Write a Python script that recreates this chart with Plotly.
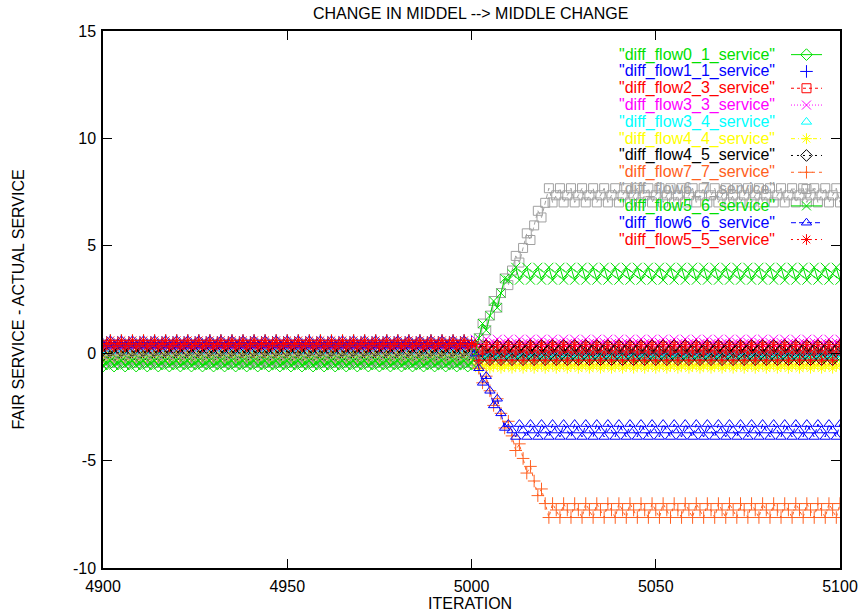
import plotly.graph_objects as go

# ---------------- data ----------------
ITERATIONS = list(range(4900, 5101))

SERIES_NAMES = [
    '"diff_flow0_1_service"', '"diff_flow1_1_service"', '"diff_flow2_3_service"',
    '"diff_flow3_3_service"', '"diff_flow3_4_service"', '"diff_flow4_4_service"',
    '"diff_flow4_5_service"', '"diff_flow7_7_service"', '"diff_flow6_7_service"',
    '"diff_flow5_6_service"', '"diff_flow6_6_service"', '"diff_flow5_5_service"',
]

flow0_1 = [
    -0.6, -0.5, -0.45, -0.6, -0.5, -0.45, -0.6, -0.5, -0.45, -0.6, -0.5, -0.45, -0.6, -0.5, -0.45, -0.6, -0.5, -0.45,
    -0.6, -0.5, -0.45, -0.6, -0.5, -0.45, -0.6, -0.5, -0.45, -0.6, -0.5, -0.45, -0.6, -0.5, -0.45, -0.6, -0.5, -0.45,
    -0.6, -0.5, -0.45, -0.6, -0.5, -0.45, -0.6, -0.5, -0.45, -0.6, -0.5, -0.45, -0.6, -0.5, -0.45, -0.6, -0.5, -0.45,
    -0.6, -0.5, -0.45, -0.6, -0.5, -0.45, -0.6, -0.5, -0.45, -0.6, -0.5, -0.45, -0.6, -0.5, -0.45, -0.6, -0.5, -0.45,
    -0.6, -0.5, -0.45, -0.6, -0.5, -0.45, -0.6, -0.5, -0.45, -0.6, -0.5, -0.45, -0.6, -0.5, -0.45, -0.6, -0.5, -0.45,
    -0.6, -0.5, -0.45, -0.6, -0.5, -0.45, -0.6, -0.5, -0.45,
    -0.6, -0.5,
    -0.1, -0.2, -0.15, -0.1, -0.2, -0.15, -0.1, -0.2, -0.15, -0.1, -0.2, -0.15, -0.1, -0.2, -0.15, -0.1, -0.2, -0.15,
    -0.1, -0.2, -0.15, -0.1, -0.2, -0.15, -0.1, -0.2, -0.15, -0.1, -0.2, -0.15, -0.1, -0.2, -0.15, -0.1, -0.2, -0.15,
    -0.1, -0.2, -0.15, -0.1, -0.2, -0.15, -0.1, -0.2, -0.15, -0.1, -0.2, -0.15, -0.1, -0.2, -0.15, -0.1, -0.2, -0.15,
    -0.1, -0.2, -0.15, -0.1, -0.2, -0.15, -0.1, -0.2, -0.15, -0.1, -0.2, -0.15, -0.1, -0.2, -0.15, -0.1, -0.2, -0.15,
    -0.1, -0.2, -0.15, -0.1, -0.2, -0.15, -0.1, -0.2, -0.15, -0.1, -0.2, -0.15, -0.1, -0.2, -0.15, -0.1, -0.2, -0.15,
    -0.1, -0.2, -0.15, -0.1, -0.2, -0.15, -0.1, -0.2, -0.15,
    -0.1,
]

flow1_1 = [
    0.4, 0.5, 0.6, 0.4, 0.5, 0.6, 0.4, 0.5, 0.6, 0.4, 0.5, 0.6, 0.4, 0.5, 0.6, 0.4, 0.5, 0.6,
    0.4, 0.5, 0.6, 0.4, 0.5, 0.6, 0.4, 0.5, 0.6, 0.4, 0.5, 0.6, 0.4, 0.5, 0.6, 0.4, 0.5, 0.6,
    0.4, 0.5, 0.6, 0.4, 0.5, 0.6, 0.4, 0.5, 0.6, 0.4, 0.5, 0.6, 0.4, 0.5, 0.6, 0.4, 0.5, 0.6,
    0.4, 0.5, 0.6, 0.4, 0.5, 0.6, 0.4, 0.5, 0.6, 0.4, 0.5, 0.6, 0.4, 0.5, 0.6, 0.4, 0.5, 0.6,
    0.4, 0.5, 0.6, 0.4, 0.5, 0.6, 0.4, 0.5, 0.6, 0.4, 0.5, 0.6, 0.4, 0.5, 0.6, 0.4, 0.5, 0.6,
    0.4, 0.5, 0.6, 0.4, 0.5, 0.6, 0.4, 0.5, 0.6,
    0.4, 0.5,
    0.1, -0.05, 0.0, 0.1, -0.05, 0.0, 0.1, -0.05, 0.0, 0.1, -0.05, 0.0, 0.1, -0.05, 0.0, 0.1, -0.05, 0.0,
    0.1, -0.05, 0.0, 0.1, -0.05, 0.0, 0.1, -0.05, 0.0, 0.1, -0.05, 0.0, 0.1, -0.05, 0.0, 0.1, -0.05, 0.0,
    0.1, -0.05, 0.0, 0.1, -0.05, 0.0, 0.1, -0.05, 0.0, 0.1, -0.05, 0.0, 0.1, -0.05, 0.0, 0.1, -0.05, 0.0,
    0.1, -0.05, 0.0, 0.1, -0.05, 0.0, 0.1, -0.05, 0.0, 0.1, -0.05, 0.0, 0.1, -0.05, 0.0, 0.1, -0.05, 0.0,
    0.1, -0.05, 0.0, 0.1, -0.05, 0.0, 0.1, -0.05, 0.0, 0.1, -0.05, 0.0, 0.1, -0.05, 0.0, 0.1, -0.05, 0.0,
    0.1, -0.05, 0.0, 0.1, -0.05, 0.0, 0.1, -0.05, 0.0,
    0.1,
]

flow2_3 = [
    0.1, 0.2, 0.3, 0.1, 0.2, 0.3, 0.1, 0.2, 0.3, 0.1, 0.2, 0.3, 0.1, 0.2, 0.3, 0.1, 0.2, 0.3,
    0.1, 0.2, 0.3, 0.1, 0.2, 0.3, 0.1, 0.2, 0.3, 0.1, 0.2, 0.3, 0.1, 0.2, 0.3, 0.1, 0.2, 0.3,
    0.1, 0.2, 0.3, 0.1, 0.2, 0.3, 0.1, 0.2, 0.3, 0.1, 0.2, 0.3, 0.1, 0.2, 0.3, 0.1, 0.2, 0.3,
    0.1, 0.2, 0.3, 0.1, 0.2, 0.3, 0.1, 0.2, 0.3, 0.1, 0.2, 0.3, 0.1, 0.2, 0.3, 0.1, 0.2, 0.3,
    0.1, 0.2, 0.3, 0.1, 0.2, 0.3, 0.1, 0.2, 0.3, 0.1, 0.2, 0.3, 0.1, 0.2, 0.3, 0.1, 0.2, 0.3,
    0.1, 0.2, 0.3, 0.1, 0.2, 0.3, 0.1, 0.2, 0.3,
    0.1, 0.2,
    0.3, -0.1, 0.1, 0.3, -0.1, 0.1, 0.3, -0.1, 0.1, 0.3, -0.1, 0.1, 0.3, -0.1, 0.1, 0.3, -0.1, 0.1,
    0.3, -0.1, 0.1, 0.3, -0.1, 0.1, 0.3, -0.1, 0.1, 0.3, -0.1, 0.1, 0.3, -0.1, 0.1, 0.3, -0.1, 0.1,
    0.3, -0.1, 0.1, 0.3, -0.1, 0.1, 0.3, -0.1, 0.1, 0.3, -0.1, 0.1, 0.3, -0.1, 0.1, 0.3, -0.1, 0.1,
    0.3, -0.1, 0.1, 0.3, -0.1, 0.1, 0.3, -0.1, 0.1, 0.3, -0.1, 0.1, 0.3, -0.1, 0.1, 0.3, -0.1, 0.1,
    0.3, -0.1, 0.1, 0.3, -0.1, 0.1, 0.3, -0.1, 0.1, 0.3, -0.1, 0.1, 0.3, -0.1, 0.1, 0.3, -0.1, 0.1,
    0.3, -0.1, 0.1, 0.3, -0.1, 0.1, 0.3, -0.1, 0.1,
    0.3,
]

flow3_3 = [
    0.0, 0.1, 0.2, 0.0, 0.1, 0.2, 0.0, 0.1, 0.2, 0.0, 0.1, 0.2, 0.0, 0.1, 0.2, 0.0, 0.1, 0.2,
    0.0, 0.1, 0.2, 0.0, 0.1, 0.2, 0.0, 0.1, 0.2, 0.0, 0.1, 0.2, 0.0, 0.1, 0.2, 0.0, 0.1, 0.2,
    0.0, 0.1, 0.2, 0.0, 0.1, 0.2, 0.0, 0.1, 0.2, 0.0, 0.1, 0.2, 0.0, 0.1, 0.2, 0.0, 0.1, 0.2,
    0.0, 0.1, 0.2, 0.0, 0.1, 0.2, 0.0, 0.1, 0.2, 0.0, 0.1, 0.2, 0.0, 0.1, 0.2, 0.0, 0.1, 0.2,
    0.0, 0.1, 0.2, 0.0, 0.1, 0.2, 0.0, 0.1, 0.2, 0.0, 0.1, 0.2, 0.0, 0.1, 0.2, 0.0, 0.1, 0.2,
    0.0, 0.1, 0.2, 0.0, 0.1, 0.2, 0.0, 0.1, 0.2,
    0.0, 0.1,
    0.65, 0.45, 0.5, 0.65, 0.45, 0.5, 0.65, 0.45, 0.5, 0.65, 0.45, 0.5, 0.65, 0.45, 0.5, 0.65, 0.45, 0.5,
    0.65, 0.45, 0.5, 0.65, 0.45, 0.5, 0.65, 0.45, 0.5, 0.65, 0.45, 0.5, 0.65, 0.45, 0.5, 0.65, 0.45, 0.5,
    0.65, 0.45, 0.5, 0.65, 0.45, 0.5, 0.65, 0.45, 0.5, 0.65, 0.45, 0.5, 0.65, 0.45, 0.5, 0.65, 0.45, 0.5,
    0.65, 0.45, 0.5, 0.65, 0.45, 0.5, 0.65, 0.45, 0.5, 0.65, 0.45, 0.5, 0.65, 0.45, 0.5, 0.65, 0.45, 0.5,
    0.65, 0.45, 0.5, 0.65, 0.45, 0.5, 0.65, 0.45, 0.5, 0.65, 0.45, 0.5, 0.65, 0.45, 0.5, 0.65, 0.45, 0.5,
    0.65, 0.45, 0.5, 0.65, 0.45, 0.5, 0.65, 0.45, 0.5,
    0.65,
]

flow3_4 = [
    -0.15, -0.05, 0.0, -0.15, -0.05, 0.0, -0.15, -0.05, 0.0, -0.15, -0.05, 0.0, -0.15, -0.05, 0.0, -0.15, -0.05, 0.0,
    -0.15, -0.05, 0.0, -0.15, -0.05, 0.0, -0.15, -0.05, 0.0, -0.15, -0.05, 0.0, -0.15, -0.05, 0.0, -0.15, -0.05, 0.0,
    -0.15, -0.05, 0.0, -0.15, -0.05, 0.0, -0.15, -0.05, 0.0, -0.15, -0.05, 0.0, -0.15, -0.05, 0.0, -0.15, -0.05, 0.0,
    -0.15, -0.05, 0.0, -0.15, -0.05, 0.0, -0.15, -0.05, 0.0, -0.15, -0.05, 0.0, -0.15, -0.05, 0.0, -0.15, -0.05, 0.0,
    -0.15, -0.05, 0.0, -0.15, -0.05, 0.0, -0.15, -0.05, 0.0, -0.15, -0.05, 0.0, -0.15, -0.05, 0.0, -0.15, -0.05, 0.0,
    -0.15, -0.05, 0.0, -0.15, -0.05, 0.0, -0.15, -0.05, 0.0,
    -0.15, -0.05,
    0.0, -0.15, -0.05, 0.0, -0.15, -0.05, 0.0, -0.15, -0.05, 0.0, -0.15, -0.05, 0.0, -0.15, -0.05, 0.0, -0.15, -0.05,
    0.0, -0.15, -0.05, 0.0, -0.15, -0.05, 0.0, -0.15, -0.05, 0.0, -0.15, -0.05, 0.0, -0.15, -0.05, 0.0, -0.15, -0.05,
    0.0, -0.15, -0.05, 0.0, -0.15, -0.05, 0.0, -0.15, -0.05, 0.0, -0.15, -0.05, 0.0, -0.15, -0.05, 0.0, -0.15, -0.05,
    0.0, -0.15, -0.05, 0.0, -0.15, -0.05, 0.0, -0.15, -0.05, 0.0, -0.15, -0.05, 0.0, -0.15, -0.05, 0.0, -0.15, -0.05,
    0.0, -0.15, -0.05, 0.0, -0.15, -0.05, 0.0, -0.15, -0.05, 0.0, -0.15, -0.05, 0.0, -0.15, -0.05, 0.0, -0.15, -0.05,
    0.0, -0.15, -0.05, 0.0, -0.15, -0.05, 0.0, -0.15, -0.05,
    0.0,
]

flow4_4 = [
    -0.3, -0.2, -0.1, -0.3, -0.2, -0.1, -0.3, -0.2, -0.1, -0.3, -0.2, -0.1, -0.3, -0.2, -0.1, -0.3, -0.2, -0.1,
    -0.3, -0.2, -0.1, -0.3, -0.2, -0.1, -0.3, -0.2, -0.1, -0.3, -0.2, -0.1, -0.3, -0.2, -0.1, -0.3, -0.2, -0.1,
    -0.3, -0.2, -0.1, -0.3, -0.2, -0.1, -0.3, -0.2, -0.1, -0.3, -0.2, -0.1, -0.3, -0.2, -0.1, -0.3, -0.2, -0.1,
    -0.3, -0.2, -0.1, -0.3, -0.2, -0.1, -0.3, -0.2, -0.1, -0.3, -0.2, -0.1, -0.3, -0.2, -0.1, -0.3, -0.2, -0.1,
    -0.3, -0.2, -0.1, -0.3, -0.2, -0.1, -0.3, -0.2, -0.1, -0.3, -0.2, -0.1, -0.3, -0.2, -0.1, -0.3, -0.2, -0.1,
    -0.3, -0.2, -0.1, -0.3, -0.2, -0.1, -0.3, -0.2, -0.1,
    -0.3, -0.2,
    -0.55, -0.7, -0.6, -0.55, -0.7, -0.6, -0.55, -0.7, -0.6, -0.55, -0.7, -0.6, -0.55, -0.7, -0.6, -0.55, -0.7, -0.6,
    -0.55, -0.7, -0.6, -0.55, -0.7, -0.6, -0.55, -0.7, -0.6, -0.55, -0.7, -0.6, -0.55, -0.7, -0.6, -0.55, -0.7, -0.6,
    -0.55, -0.7, -0.6, -0.55, -0.7, -0.6, -0.55, -0.7, -0.6, -0.55, -0.7, -0.6, -0.55, -0.7, -0.6, -0.55, -0.7, -0.6,
    -0.55, -0.7, -0.6, -0.55, -0.7, -0.6, -0.55, -0.7, -0.6, -0.55, -0.7, -0.6, -0.55, -0.7, -0.6, -0.55, -0.7, -0.6,
    -0.55, -0.7, -0.6, -0.55, -0.7, -0.6, -0.55, -0.7, -0.6, -0.55, -0.7, -0.6, -0.55, -0.7, -0.6, -0.55, -0.7, -0.6,
    -0.55, -0.7, -0.6, -0.55, -0.7, -0.6, -0.55, -0.7, -0.6,
    -0.55,
]

flow4_5 = [
    -0.1, 0.0, 0.1, -0.1, 0.0, 0.1, -0.1, 0.0, 0.1, -0.1, 0.0, 0.1, -0.1, 0.0, 0.1, -0.1, 0.0, 0.1,
    -0.1, 0.0, 0.1, -0.1, 0.0, 0.1, -0.1, 0.0, 0.1, -0.1, 0.0, 0.1, -0.1, 0.0, 0.1, -0.1, 0.0, 0.1,
    -0.1, 0.0, 0.1, -0.1, 0.0, 0.1, -0.1, 0.0, 0.1, -0.1, 0.0, 0.1, -0.1, 0.0, 0.1, -0.1, 0.0, 0.1,
    -0.1, 0.0, 0.1, -0.1, 0.0, 0.1, -0.1, 0.0, 0.1, -0.1, 0.0, 0.1, -0.1, 0.0, 0.1, -0.1, 0.0, 0.1,
    -0.1, 0.0, 0.1, -0.1, 0.0, 0.1, -0.1, 0.0, 0.1, -0.1, 0.0, 0.1, -0.1, 0.0, 0.1, -0.1, 0.0, 0.1,
    -0.1, 0.0, 0.1, -0.1, 0.0, 0.1, -0.1, 0.0, 0.1,
    -0.1, 0.0,
    0.35, -0.3, 0.1, 0.35, -0.3, 0.1, 0.35, -0.3, 0.1, 0.35, -0.3, 0.1, 0.35, -0.3, 0.1, 0.35, -0.3, 0.1,
    0.35, -0.3, 0.1, 0.35, -0.3, 0.1, 0.35, -0.3, 0.1, 0.35, -0.3, 0.1, 0.35, -0.3, 0.1, 0.35, -0.3, 0.1,
    0.35, -0.3, 0.1, 0.35, -0.3, 0.1, 0.35, -0.3, 0.1, 0.35, -0.3, 0.1, 0.35, -0.3, 0.1, 0.35, -0.3, 0.1,
    0.35, -0.3, 0.1, 0.35, -0.3, 0.1, 0.35, -0.3, 0.1, 0.35, -0.3, 0.1, 0.35, -0.3, 0.1, 0.35, -0.3, 0.1,
    0.35, -0.3, 0.1, 0.35, -0.3, 0.1, 0.35, -0.3, 0.1, 0.35, -0.3, 0.1, 0.35, -0.3, 0.1, 0.35, -0.3, 0.1,
    0.35, -0.3, 0.1, 0.35, -0.3, 0.1, 0.35, -0.3, 0.1,
    0.35,
]

flow7_7 = [
    0.35, 0.45, 0.6, 0.35, 0.45, 0.6, 0.35, 0.45, 0.6, 0.35, 0.45, 0.6, 0.35, 0.45, 0.6, 0.35, 0.45, 0.6,
    0.35, 0.45, 0.6, 0.35, 0.45, 0.6, 0.35, 0.45, 0.6, 0.35, 0.45, 0.6, 0.35, 0.45, 0.6, 0.35, 0.45, 0.6,
    0.35, 0.45, 0.6, 0.35, 0.45, 0.6, 0.35, 0.45, 0.6, 0.35, 0.45, 0.6, 0.35, 0.45, 0.6, 0.35, 0.45, 0.6,
    0.35, 0.45, 0.6, 0.35, 0.45, 0.6, 0.35, 0.45, 0.6, 0.35, 0.45, 0.6, 0.35, 0.45, 0.6, 0.35, 0.45, 0.6,
    0.35, 0.45, 0.6, 0.35, 0.45, 0.6, 0.35, 0.45, 0.6, 0.35, 0.45, 0.6, 0.35, 0.45, 0.6, 0.35, 0.45, 0.6,
    0.35, 0.45, 0.6, 0.35, 0.45, 0.6, 0.35, 0.45, 0.6,
    0.35, 0.45,
    -0.02, -0.70, -1.38, -1.07, -1.75, -2.43, -2.12, -2.80, -3.48, -3.17, -3.85, -4.53, -4.22, -4.90, -5.58,
    -5.27, -5.95, -6.63, -6.32, -7.00, -7.65,
    -7.0, -7.3, -7.65, -7.0, -7.3, -7.65, -7.0, -7.3, -7.65, -7.0, -7.3, -7.65, -7.0, -7.3, -7.65, -7.0, -7.3, -7.65,
    -7.0, -7.3, -7.65, -7.0, -7.3, -7.65, -7.0, -7.3, -7.65, -7.0, -7.3, -7.65, -7.0, -7.3, -7.65, -7.0, -7.3, -7.65,
    -7.0, -7.3, -7.65, -7.0, -7.3, -7.65, -7.0, -7.3, -7.65, -7.0, -7.3, -7.65, -7.0, -7.3, -7.65, -7.0, -7.3, -7.65,
    -7.0, -7.3, -7.65, -7.0, -7.3, -7.65, -7.0, -7.3, -7.65, -7.0, -7.3, -7.65, -7.0, -7.3, -7.65, -7.0, -7.3, -7.65,
    -7.0, -7.3, -7.65, -7.0, -7.3, -7.65,
    -7.0,
]

flow6_7 = [
    -0.45, -0.35, -0.25, -0.45, -0.35, -0.25, -0.45, -0.35, -0.25, -0.45, -0.35, -0.25, -0.45, -0.35, -0.25, -0.45, -0.35, -0.25,
    -0.45, -0.35, -0.25, -0.45, -0.35, -0.25, -0.45, -0.35, -0.25, -0.45, -0.35, -0.25, -0.45, -0.35, -0.25, -0.45, -0.35, -0.25,
    -0.45, -0.35, -0.25, -0.45, -0.35, -0.25, -0.45, -0.35, -0.25, -0.45, -0.35, -0.25, -0.45, -0.35, -0.25, -0.45, -0.35, -0.25,
    -0.45, -0.35, -0.25, -0.45, -0.35, -0.25, -0.45, -0.35, -0.25, -0.45, -0.35, -0.25, -0.45, -0.35, -0.25, -0.45, -0.35, -0.25,
    -0.45, -0.35, -0.25, -0.45, -0.35, -0.25, -0.45, -0.35, -0.25, -0.45, -0.35, -0.25, -0.45, -0.35, -0.25, -0.45, -0.35, -0.25,
    -0.45, -0.35, -0.25, -0.45, -0.35, -0.25, -0.45, -0.35, -0.25,
    -0.45, -0.35,
    0.02, 0.70, 1.38, 1.07, 1.75, 2.43, 2.12, 2.80, 3.48, 3.17, 3.85, 4.53, 4.22, 4.90, 5.58,
    5.27, 5.95, 6.63, 6.32, 7.00, 7.68,
    7.02, 7.35, 7.68, 7.02, 7.35, 7.68, 7.02, 7.35, 7.68, 7.02, 7.35, 7.68, 7.02, 7.35, 7.68, 7.02, 7.35, 7.68,
    7.02, 7.35, 7.68, 7.02, 7.35, 7.68, 7.02, 7.35, 7.68, 7.02, 7.35, 7.68, 7.02, 7.35, 7.68, 7.02, 7.35, 7.68,
    7.02, 7.35, 7.68, 7.02, 7.35, 7.68, 7.02, 7.35, 7.68, 7.02, 7.35, 7.68, 7.02, 7.35, 7.68, 7.02, 7.35, 7.68,
    7.02, 7.35, 7.68, 7.02, 7.35, 7.68, 7.02, 7.35, 7.68, 7.02, 7.35, 7.68, 7.02, 7.35, 7.68, 7.02, 7.35, 7.68,
    7.02, 7.35, 7.68, 7.02, 7.35, 7.68,
    7.02,
]

flow5_6 = [
    -0.55, -0.45, -0.35, -0.55, -0.45, -0.35, -0.55, -0.45, -0.35, -0.55, -0.45, -0.35, -0.55, -0.45, -0.35, -0.55, -0.45, -0.35,
    -0.55, -0.45, -0.35, -0.55, -0.45, -0.35, -0.55, -0.45, -0.35, -0.55, -0.45, -0.35, -0.55, -0.45, -0.35, -0.55, -0.45, -0.35,
    -0.55, -0.45, -0.35, -0.55, -0.45, -0.35, -0.55, -0.45, -0.35, -0.55, -0.45, -0.35, -0.55, -0.45, -0.35, -0.55, -0.45, -0.35,
    -0.55, -0.45, -0.35, -0.55, -0.45, -0.35, -0.55, -0.45, -0.35, -0.55, -0.45, -0.35, -0.55, -0.45, -0.35, -0.55, -0.45, -0.35,
    -0.55, -0.45, -0.35, -0.55, -0.45, -0.35, -0.55, -0.45, -0.35, -0.55, -0.45, -0.35, -0.55, -0.45, -0.35, -0.55, -0.45, -0.35,
    -0.55, -0.45, -0.35, -0.55, -0.45, -0.35, -0.55, -0.45, -0.35,
    -0.55, -0.45,
    0.02, 0.70, 1.38, 1.07, 1.75, 2.43, 2.12, 2.80, 3.48,
    3.4, 3.7, 4.0, 3.4, 3.7, 4.0, 3.4, 3.7, 4.0, 3.4, 3.7, 4.0, 3.4, 3.7, 4.0, 3.4, 3.7, 4.0,
    3.4, 3.7, 4.0, 3.4, 3.7, 4.0, 3.4, 3.7, 4.0, 3.4, 3.7, 4.0, 3.4, 3.7, 4.0, 3.4, 3.7, 4.0,
    3.4, 3.7, 4.0, 3.4, 3.7, 4.0, 3.4, 3.7, 4.0, 3.4, 3.7, 4.0, 3.4, 3.7, 4.0, 3.4, 3.7, 4.0,
    3.4, 3.7, 4.0, 3.4, 3.7, 4.0, 3.4, 3.7, 4.0, 3.4, 3.7, 4.0, 3.4, 3.7, 4.0, 3.4, 3.7, 4.0,
    3.4, 3.7, 4.0, 3.4, 3.7, 4.0, 3.4, 3.7, 4.0, 3.4, 3.7, 4.0, 3.4, 3.7, 4.0, 3.4, 3.7, 4.0,
    3.4,
]

flow6_6 = [
    0.35, 0.45, 0.6, 0.35, 0.45, 0.6, 0.35, 0.45, 0.6, 0.35, 0.45, 0.6, 0.35, 0.45, 0.6, 0.35, 0.45, 0.6,
    0.35, 0.45, 0.6, 0.35, 0.45, 0.6, 0.35, 0.45, 0.6, 0.35, 0.45, 0.6, 0.35, 0.45, 0.6, 0.35, 0.45, 0.6,
    0.35, 0.45, 0.6, 0.35, 0.45, 0.6, 0.35, 0.45, 0.6, 0.35, 0.45, 0.6, 0.35, 0.45, 0.6, 0.35, 0.45, 0.6,
    0.35, 0.45, 0.6, 0.35, 0.45, 0.6, 0.35, 0.45, 0.6, 0.35, 0.45, 0.6, 0.35, 0.45, 0.6, 0.35, 0.45, 0.6,
    0.35, 0.45, 0.6, 0.35, 0.45, 0.6, 0.35, 0.45, 0.6, 0.35, 0.45, 0.6, 0.35, 0.45, 0.6, 0.35, 0.45, 0.6,
    0.35, 0.45, 0.6, 0.35, 0.45, 0.6, 0.35, 0.45, 0.6,
    0.35, 0.45,
    -0.02, -0.70, -1.38, -1.07, -1.75, -2.43, -2.12, -2.80, -3.48,
    -3.3, -3.6, -3.9, -3.3, -3.6, -3.9, -3.3, -3.6, -3.9, -3.3, -3.6, -3.9, -3.3, -3.6, -3.9, -3.3, -3.6, -3.9,
    -3.3, -3.6, -3.9, -3.3, -3.6, -3.9, -3.3, -3.6, -3.9, -3.3, -3.6, -3.9, -3.3, -3.6, -3.9, -3.3, -3.6, -3.9,
    -3.3, -3.6, -3.9, -3.3, -3.6, -3.9, -3.3, -3.6, -3.9, -3.3, -3.6, -3.9, -3.3, -3.6, -3.9, -3.3, -3.6, -3.9,
    -3.3, -3.6, -3.9, -3.3, -3.6, -3.9, -3.3, -3.6, -3.9, -3.3, -3.6, -3.9, -3.3, -3.6, -3.9, -3.3, -3.6, -3.9,
    -3.3, -3.6, -3.9, -3.3, -3.6, -3.9, -3.3, -3.6, -3.9, -3.3, -3.6, -3.9, -3.3, -3.6, -3.9, -3.3, -3.6, -3.9,
    -3.3,
]

flow5_5 = [
    0.3, 0.45, 0.6, 0.3, 0.45, 0.6, 0.3, 0.45, 0.6, 0.3, 0.45, 0.6, 0.3, 0.45, 0.6, 0.3, 0.45, 0.6,
    0.3, 0.45, 0.6, 0.3, 0.45, 0.6, 0.3, 0.45, 0.6, 0.3, 0.45, 0.6, 0.3, 0.45, 0.6, 0.3, 0.45, 0.6,
    0.3, 0.45, 0.6, 0.3, 0.45, 0.6, 0.3, 0.45, 0.6, 0.3, 0.45, 0.6, 0.3, 0.45, 0.6, 0.3, 0.45, 0.6,
    0.3, 0.45, 0.6, 0.3, 0.45, 0.6, 0.3, 0.45, 0.6, 0.3, 0.45, 0.6, 0.3, 0.45, 0.6, 0.3, 0.45, 0.6,
    0.3, 0.45, 0.6, 0.3, 0.45, 0.6, 0.3, 0.45, 0.6, 0.3, 0.45, 0.6, 0.3, 0.45, 0.6, 0.3, 0.45, 0.6,
    0.3, 0.45, 0.6, 0.3, 0.45, 0.6, 0.3, 0.45, 0.6,
    0.3, 0.45,
    0.4, -0.35, 0.05, 0.4, -0.35, 0.05, 0.4, -0.35, 0.05, 0.4, -0.35, 0.05, 0.4, -0.35, 0.05, 0.4, -0.35, 0.05,
    0.4, -0.35, 0.05, 0.4, -0.35, 0.05, 0.4, -0.35, 0.05, 0.4, -0.35, 0.05, 0.4, -0.35, 0.05, 0.4, -0.35, 0.05,
    0.4, -0.35, 0.05, 0.4, -0.35, 0.05, 0.4, -0.35, 0.05, 0.4, -0.35, 0.05, 0.4, -0.35, 0.05, 0.4, -0.35, 0.05,
    0.4, -0.35, 0.05, 0.4, -0.35, 0.05, 0.4, -0.35, 0.05, 0.4, -0.35, 0.05, 0.4, -0.35, 0.05, 0.4, -0.35, 0.05,
    0.4, -0.35, 0.05, 0.4, -0.35, 0.05, 0.4, -0.35, 0.05, 0.4, -0.35, 0.05, 0.4, -0.35, 0.05, 0.4, -0.35, 0.05,
    0.4, -0.35, 0.05, 0.4, -0.35, 0.05, 0.4, -0.35, 0.05,
    0.4,
]

X_TICKS = [4900, 4950, 5000, 5050, 5100]
Y_TICKS = [-10, -5, 0, 5, 10, 15]

SERIES_VALUES = [flow0_1, flow1_1, flow2_3, flow3_3, flow3_4, flow4_4,
                 flow4_5, flow7_7, flow6_7, flow5_6, flow6_6, flow5_5]

# ---------------- styles ----------------
# (color, symbol, dash or None for points only)
STYLES = [
    ("#00e000", "diamond-open", "solid"),
    ("#0000ff", "cross-thin-open", None),
    ("#ff0000", "square-open", "3px,3px"),
    ("#ff00ff", "x-thin-open", "1px,2px"),
    ("#00ffff", "triangle-up-open", None),
    ("#ffff00", "asterisk-open", "4px,3px,1px,3px"),
    ("#000000", "diamond-open", "2px,4px"),
    ("#ff6020", "cross-thin-open", "3px,4px"),
    ("#a0a0a0", "square-open", "4px,3px"),
    ("#00e000", "x-thin-open", "solid"),
    ("#0000ff", "triangle-up-open", "5px,3px"),
    ("#ff0000", "asterisk-open", "2px,4px"),
]
MARKER_SIZE = 9
FONT = "Liberation Sans, Arial, Helvetica, sans-serif"

for vals in SERIES_VALUES:
    assert len(vals) == len(ITERATIONS), len(vals)

fig = go.Figure()

for name, vals, (color, sym, dash) in zip(SERIES_NAMES, SERIES_VALUES, STYLES):
    mode = "markers" if dash is None else "lines+markers"
    fig.add_trace(go.Scatter(
        x=ITERATIONS, y=vals, mode=mode, name=name, showlegend=False,
        line=dict(color=color, width=1, dash=dash if dash else "solid"),
        marker=dict(symbol=sym, size=MARKER_SIZE, color=color,
                    line=dict(color=color, width=1)),
        hoverinfo="skip",
    ))

# ---------------- gnuplot-style key (text right, sample on its right) ----------------
KEY_TEXT_X = 0.9145
KEY_LINE_X0, KEY_LINE_X1, KEY_MARK_X = 0.9335, 0.9756, 0.9545
KEY_ROW0_Y, KEY_ROW_STEP = 0.9560, 0.0313

annotations = []
for k, (name, (color, sym, dash)) in enumerate(zip(SERIES_NAMES, STYLES)):
    yk = KEY_ROW0_Y - k * KEY_ROW_STEP
    annotations.append(dict(
        x=KEY_TEXT_X, y=yk, xref="paper", yref="paper", text=name,
        showarrow=False, xanchor="right", yanchor="middle",
        font=dict(family=FONT, size=16, color=color),
    ))
    if dash is not None:
        fig.add_trace(go.Scatter(
            x=[KEY_LINE_X0, KEY_LINE_X1], y=[yk, yk], xaxis="x2", yaxis="y2",
            mode="lines", showlegend=False, hoverinfo="skip",
            line=dict(color=color, width=1, dash=dash),
        ))
    fig.add_trace(go.Scatter(
        x=[KEY_MARK_X], y=[yk], xaxis="x2", yaxis="y2",
        mode="markers", showlegend=False, hoverinfo="skip",
        marker=dict(symbol=sym, size=MARKER_SIZE, color=color,
                    line=dict(color=color, width=1)),
    ))

annotations += [
    dict(x=0.4993, y=1.0317, xref="paper", yref="paper",
         text="CHANGE IN MIDDEL --> MIDDLE CHANGE", showarrow=False,
         xanchor="center", yanchor="middle", font=dict(family=FONT, size=16, color="black")),
    dict(x=0.498, y=-0.066, xref="paper", yref="paper", text="ITERATION",
         showarrow=False, xanchor="center", yanchor="middle",
         font=dict(family=FONT, size=16, color="black")),
    dict(x=-0.1153, y=0.5, xref="paper", yref="paper",
         text="FAIR SERVICE - ACTUAL SERVICE", textangle=-90, showarrow=False,
         xanchor="center", yanchor="middle", font=dict(family=FONT, size=16, color="black")),
]

axis_common = dict(
    showgrid=False, zeroline=False, showline=True, linecolor="black", linewidth=1.5,
    mirror="ticks", ticks="inside", ticklen=9, tickwidth=1, tickcolor="black",
    tickfont=dict(family=FONT, size=16, color="black"), automargin=False,
)

fig.update_layout(
    width=859, height=613,
    margin=dict(l=103, r=19, t=31, b=45),
    paper_bgcolor="white", plot_bgcolor="white",
    showlegend=False,
    xaxis=dict(range=[4900, 5100], tickvals=X_TICKS, ticktext=[str(v) for v in X_TICKS],
               ticklabelstandoff=3, **axis_common),
    yaxis=dict(range=[-10, 15], tickvals=Y_TICKS, ticktext=[str(v) for v in Y_TICKS],
               ticklabelstandoff=2, **axis_common),
    xaxis2=dict(overlaying="x", range=[0, 1], visible=False, fixedrange=True),
    yaxis2=dict(overlaying="y", range=[0, 1], visible=False, fixedrange=True),
    annotations=annotations,
)

fig.write_html("out.html")
